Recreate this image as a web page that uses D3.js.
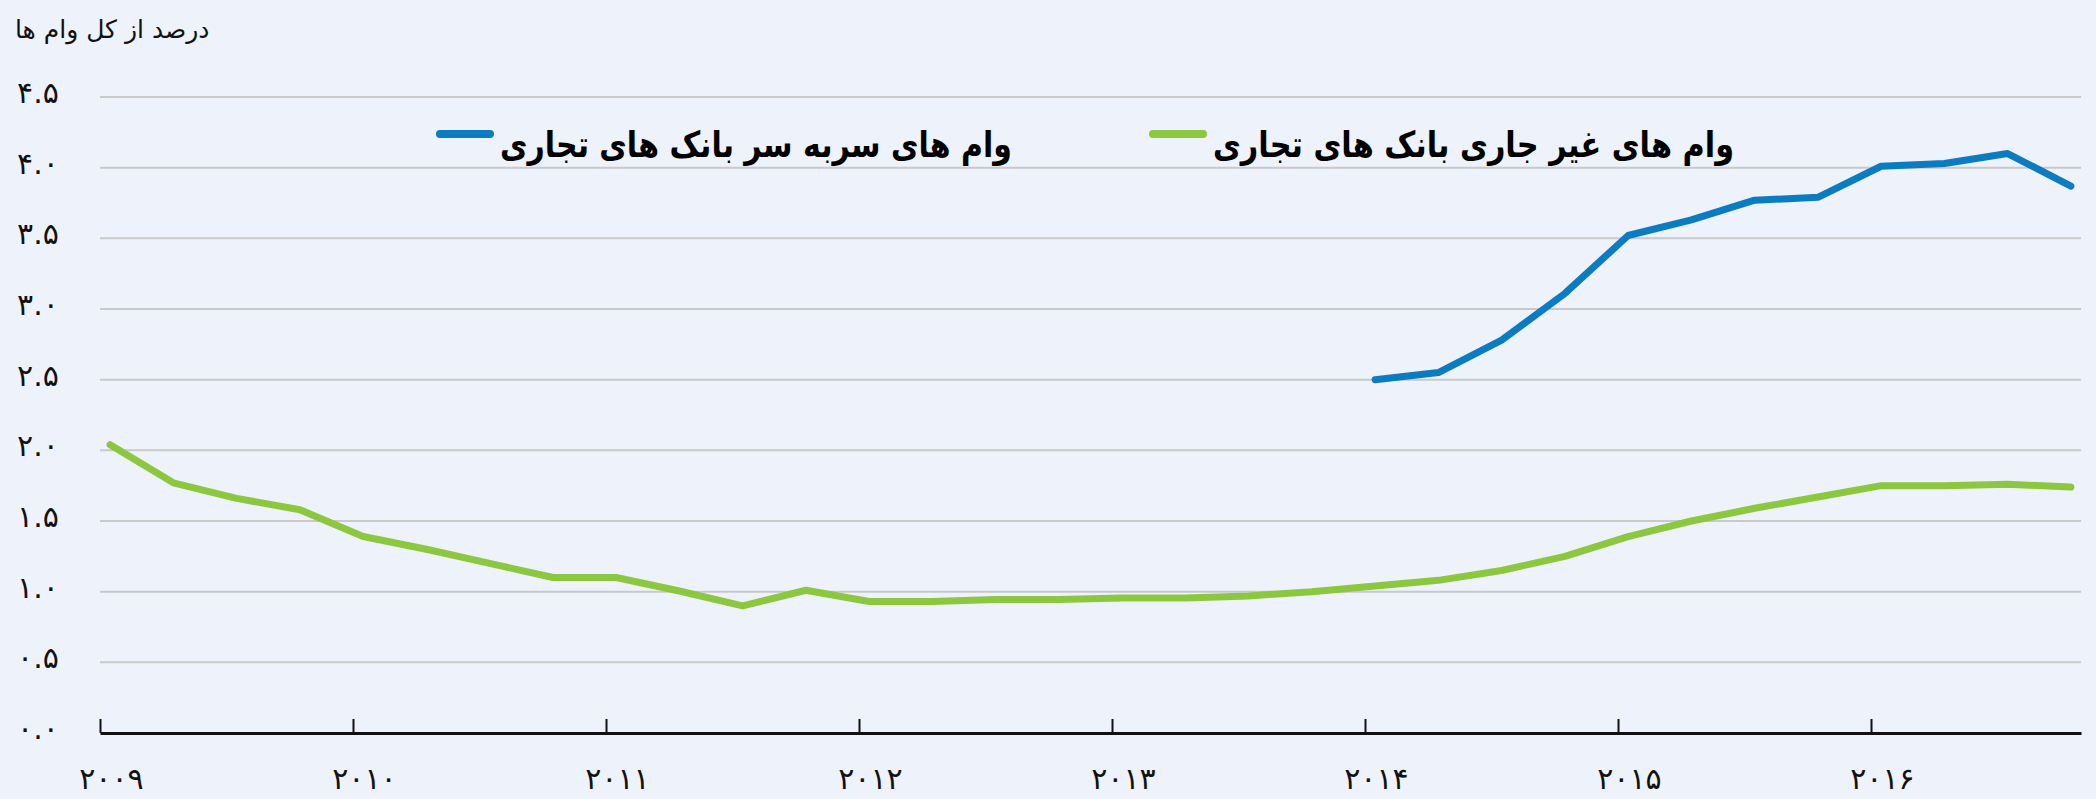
<!DOCTYPE html>
<html lang="fa">
<head>
<meta charset="UTF-8">
<title>وام های غیر جاری بانک های تجاری</title>
<script src="https://cdnjs.cloudflare.com/ajax/libs/d3/7.8.5/d3.min.js"></script>
<style>
    html, body { margin: 0; padding: 0; background: #eef2fa; }
    svg { display: block; font-family: 'DejaVu Sans', sans-serif; }
    .grid { stroke: #c9c9cc; stroke-width: 2; }
    .axis path, .axis line { stroke: #111; }
    .tick-label { font-size: 30px; fill: #111; }
    .legend-text { font-size: 36px; font-weight: bold; fill: #000; }
</style>
</head>
<body>
<div id="chart"></div>
<script>
// quarters 2009Q1 .. 2016Q4
const quarters = [
    "2009Q1","2009Q2","2009Q3","2009Q4","2010Q1","2010Q2","2010Q3","2010Q4",
    "2011Q1","2011Q2","2011Q3","2011Q4","2012Q1","2012Q2","2012Q3","2012Q4",
    "2013Q1","2013Q2","2013Q3","2013Q4","2014Q1","2014Q2","2014Q3","2014Q4",
    "2015Q1","2015Q2","2015Q3","2015Q4","2016Q1","2016Q2","2016Q3","2016Q4"
];
// non-performing loans, share of total loans
const nplValues = [
    2.04, 1.77, 1.66, 1.58, 1.39, 1.30, 1.20, 1.10,
    1.10, 1.005, 0.90, 1.01, 0.93, 0.93, 0.945, 0.945,
    0.955, 0.955, 0.97, 1.00, 1.04, 1.08, 1.15, 1.25,
    1.39, 1.50, 1.59, 1.67, 1.75, 1.75, 1.76, 1.74
];
// overdue loans, only from 2014Q1
const overdueQuarters = [
    "2014Q1","2014Q2","2014Q3","2014Q4","2015Q1","2015Q2",
    "2015Q3","2015Q4","2016Q1","2016Q2","2016Q3","2016Q4"
];
const overdueValues = [2.50, 2.55, 2.78, 3.11, 3.52, 3.63, 3.77, 3.79, 4.01, 4.03, 4.10, 3.87];

const years = [2009, 2010, 2011, 2012, 2013, 2014, 2015, 2016];
const yearLabels = ["۲۰۰۹","۲۰۱۰","۲۰۱۱","۲۰۱۲","۲۰۱۳","۲۰۱۴","۲۰۱۵","۲۰۱۶"];
const yTicks = [0, 0.5, 1, 1.5, 2, 2.5, 3, 3.5, 4, 4.5];
const yTickLabels = ["۰.۰","۰.۵","۱.۰","۱.۵","۲.۰","۲.۵","۳.۰","۳.۵","۴.۰","۴.۵"];

const unitLabel = "درصد از کل وام ها";
const seriesNames = ["وام های سربه سر بانک های تجاری", "وام های غیر جاری بانک های تجاری"];
const seriesColors = ["#0b7bc2", "#8cc83f"];

const W = 2096, H = 799;

// quarter string -> decimal year (points sit a little after the quarter start)
const qPos = q => +q.slice(0, 4) + (+q.slice(5) - 1) * 0.25 + 0.04;

const x = d3.scaleLinear().domain([2009, 2016.83]).range([100, 2081]);
const y = d3.scaleLinear().domain([0, 4.5]).range([733, 97]);

const svg = d3.select("#chart").append("svg")
    .attr("width", W)
    .attr("height", H);

// gridlines
svg.append("g")
    .selectAll("line")
    .data(yTicks.filter(d => d > 0))
    .join("line")
    .attr("class", "grid")
    .attr("x1", x.range()[0])
    .attr("x2", x.range()[1])
    .attr("y1", d => y(d))
    .attr("y2", d => y(d));

// x axis, ticks pointing up
const xAxis = svg.append("g")
    .attr("class", "axis")
    .attr("transform", `translate(0,${y(0)})`)
    .call(d3.axisTop(x).tickValues(years).tickSize(14).tickSizeOuter(0).tickFormat(""));
xAxis.select(".domain").attr("stroke-width", 3);
xAxis.selectAll(".tick line").attr("stroke-width", 2);

// year labels, centered on the first quarter point
svg.append("g")
    .selectAll("text")
    .data(years)
    .join("text")
    .attr("class", "tick-label")
    .attr("x", d => x(d + 0.045))
    .attr("y", 789)
    .attr("font-size", 32)
    .attr("text-anchor", "middle")
    .text((d, i) => yearLabels[i]);

// y labels
svg.append("g")
    .selectAll("text")
    .data(yTicks)
    .join("text")
    .attr("class", "tick-label")
    .attr("x", 38)
    .attr("y", d => y(d) + 6)
    .attr("text-anchor", "middle")
    .text((d, i) => yTickLabels[i]);

// unit label
svg.append("text")
    .attr("x", 15)
    .attr("y", 38)
    .attr("font-size", 25)
    .attr("fill", "#111")
    .text(unitLabel);

const line = d3.line()
    .x(d => x(qPos(d.q)))
    .y(d => y(d.v));

const nplData = quarters.map((q, i) => ({ q: q, v: nplValues[i] }));
const overdueData = overdueQuarters.map((q, i) => ({ q: q, v: overdueValues[i] }));

svg.append("path")
    .datum(nplData)
    .attr("fill", "none")
    .attr("stroke", seriesColors[1])
    .attr("stroke-width", 7)
    .attr("stroke-linejoin", "round")
    .attr("stroke-linecap", "round")
    .attr("d", line);

svg.append("path")
    .datum(overdueData)
    .attr("fill", "none")
    .attr("stroke", seriesColors[0])
    .attr("stroke-width", 7)
    .attr("stroke-linejoin", "round")
    .attr("stroke-linecap", "round")
    .attr("d", line);

// legend
const legendItems = [
    { name: seriesNames[0], color: seriesColors[0], x0: 440, x1: 1012 },
    { name: seriesNames[1], color: seriesColors[1], x0: 1153, x1: 1734 }
];
legendItems.forEach(item => {
    svg.append("line")
        .attr("x1", item.x0)
        .attr("x2", item.x0 + 50)
        .attr("y1", 134)
        .attr("y2", 134)
        .attr("stroke", item.color)
        .attr("stroke-width", 8)
        .attr("stroke-linecap", "round");
    svg.append("text")
        .attr("class", "legend-text")
        .attr("x", item.x1)
        .attr("y", 157)
        .attr("text-anchor", "end")
        .attr("textLength", item.x1 - item.x0 - 60)
        .attr("lengthAdjust", "spacingAndGlyphs")
        .text(item.name);
});
</script>
</body>
</html>
